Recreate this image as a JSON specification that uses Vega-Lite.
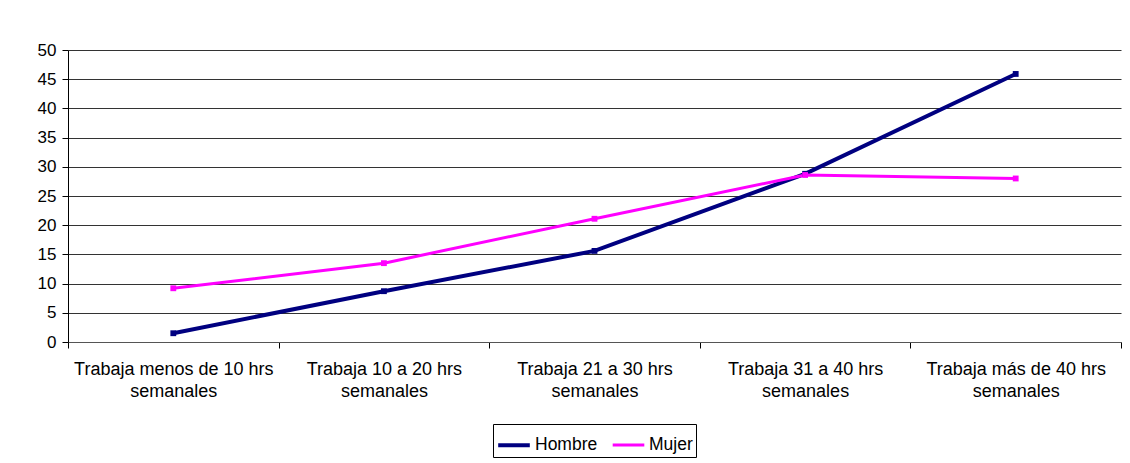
{
  "$schema": "https://vega.github.io/schema/vega-lite/v6.json",
  "autosize": {"type": "none"},
  "width": 1053,
  "height": 292,
  "padding": {"left": 68, "top": 50, "right": 9, "bottom": 121},
  "background": "white",
  "data": {
    "values": [
      {"cat": "Trabaja menos de 10 hrs semanales", "serie": "Hombre", "valor": 1.5},
      {"cat": "Trabaja 10 a 20 hrs semanales", "serie": "Hombre", "valor": 8.7},
      {"cat": "Trabaja 21 a 30 hrs semanales", "serie": "Hombre", "valor": 15.6},
      {"cat": "Trabaja 31 a 40 hrs semanales", "serie": "Hombre", "valor": 28.8},
      {"cat": "Trabaja más de 40 hrs semanales", "serie": "Hombre", "valor": 45.9},
      {"cat": "Trabaja menos de 10 hrs semanales", "serie": "Mujer", "valor": 9.2},
      {"cat": "Trabaja 10 a 20 hrs semanales", "serie": "Mujer", "valor": 13.5},
      {"cat": "Trabaja 21 a 30 hrs semanales", "serie": "Mujer", "valor": 21.1},
      {"cat": "Trabaja 31 a 40 hrs semanales", "serie": "Mujer", "valor": 28.6},
      {"cat": "Trabaja más de 40 hrs semanales", "serie": "Mujer", "valor": 28.0}
    ]
  },
  "mark": {"type": "line", "point": {"shape": "square", "size": 34, "filled": true}},
  "encoding": {
    "x": {
      "field": "cat",
      "type": "nominal",
      "sort": null,
      "title": null,
      "axis": {
        "labelAngle": 0,
        "labelAlign": "center",
        "labelFlush": false,
        "labelExpr": "indexof(datum.label + '', ' semanales') < 0 ? '' : [slice(datum.label, 0, indexof(datum.label, ' semanales')), 'semanales']",
        "labelFont": "Liberation Sans",
        "labelFontSize": 18,
        "labelColor": "#000",
        "labelLineHeight": 22,
        "labelPadding": 12,
        "labelLimit": 0,
        "tickBand": "extent",
        "tickColor": "#000",
        "tickSize": 6,
        "domainColor": "#555",
        "grid": false
      }
    },
    "y": {
      "field": "valor",
      "type": "quantitative",
      "title": null,
      "scale": {"domain": [0, 50], "nice": false},
      "axis": {
        "values": [0, 5, 10, 15, 20, 25, 30, 35, 40, 45, 50],
        "labelFont": "Liberation Sans",
        "labelFontSize": 17,
        "labelColor": "#000",
        "labelPadding": 6,
        "tickColor": "#000",
        "tickSize": 6,
        "domainColor": "#000",
        "gridColor": "#000",
        "gridOpacity": 0.8
      }
    },
    "color": {
      "field": "serie",
      "type": "nominal",
      "scale": {"domain": ["Hombre", "Mujer"], "range": ["#000080", "#FF00FF"]},
      "legend": {
        "title": null,
        "orient": "bottom",
        "direction": "horizontal",
        "offset": 24,
        "strokeColor": "#000",
        "padding": 3,
        "labelFont": "Liberation Sans",
        "labelFontSize": 17.5,
        "labelColor": "#000",
        "symbolType": "stroke",
        "symbolSize": 1000,
        "symbolStrokeWidth": 3.5,
        "columnPadding": 8,
        "labelOffset": 3
      }
    },
    "strokeWidth": {
      "field": "serie",
      "type": "nominal",
      "scale": {"domain": ["Hombre", "Mujer"], "range": [4, 3]},
      "legend": null
    }
  },
  "config": {
    "view": {"stroke": null},
    "axis": {"labelFont": "Liberation Sans"},
    "legend": {"layout": {"bottom": {"anchor": "middle"}}}
  }
}
